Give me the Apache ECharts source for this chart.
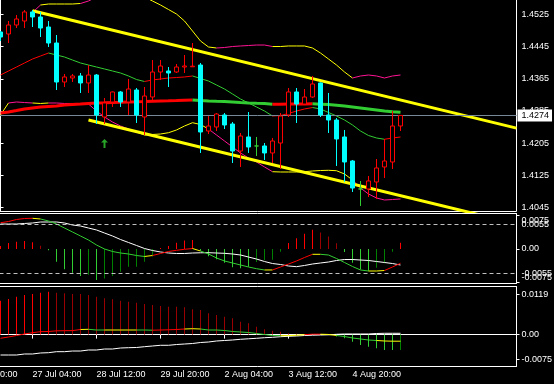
<!DOCTYPE html>
<html><head><meta charset="utf-8">
<script src="https://cdn.jsdelivr.net/npm/echarts@6.0.0/dist/echarts.min.js"></script>
<style>html,body{margin:0;padding:0;background:#000;}#c{width:554px;height:384px;}</style>
</head><body><div id="c"></div>
<script>
// ---------- DATA ----------
const times = ['25 Jul 20:00','26 Jul 00:00','26 Jul 04:00','26 Jul 08:00',
'26 Jul 12:00','26 Jul 16:00','26 Jul 20:00','27 Jul 00:00','27 Jul 04:00','27 Jul 08:00','27 Jul 12:00','27 Jul 16:00','27 Jul 20:00',
'28 Jul 00:00','28 Jul 04:00','28 Jul 08:00','28 Jul 12:00','28 Jul 16:00','28 Jul 20:00',
'29 Jul 00:00','29 Jul 04:00','29 Jul 08:00','29 Jul 12:00','29 Jul 16:00','29 Jul 20:00',
'1 Aug 00:00','1 Aug 04:00','1 Aug 08:00','1 Aug 12:00','1 Aug 16:00','1 Aug 20:00',
'2 Aug 00:00','2 Aug 04:00','2 Aug 08:00','2 Aug 12:00','2 Aug 16:00','2 Aug 20:00',
'3 Aug 00:00','3 Aug 04:00','3 Aug 08:00','3 Aug 12:00','3 Aug 16:00','3 Aug 20:00',
'4 Aug 00:00','4 Aug 04:00','4 Aug 08:00','4 Aug 12:00','4 Aug 16:00','4 Aug 20:00',
'5 Aug 00:00','5 Aug 04:00','5 Aug 08:00','5 Aug 12:00','5 Aug 16:00','5 Aug 20:00'];
const PAD = 4; // bars of times[] that lie left of the visible area (no data drawn)

const opens  = [1.44815,1.44765,1.44989,1.45088,1.45313,1.45188,1.44939,1.44541,1.43571,1.43671,
1.43721,1.43547,1.43745,1.42701,1.43074,1.43323,1.43074,1.43372,1.42701,1.43198,
1.43820,1.43845,1.43820,1.43944,1.43950,1.43994,1.42353,1.42452,1.42751,1.42527,
1.41855,1.42204,1.41980,1.41980,1.41806,1.42054,1.42751,1.43323,1.43024,1.43198,
1.43547,1.42751,1.42626,1.42204,1.41607,1.40911,1.40911,1.41085,1.41458,1.41582,1.42477];
const closes = [1.44690,1.44989,1.45138,1.45313,1.45188,1.44914,1.44541,1.43571,1.43696,1.43721,
1.43547,1.43745,1.42751,1.43049,1.43323,1.43074,1.43397,1.42751,1.43223,1.43820,
1.43969,1.43795,1.43944,1.43969,1.43965,1.42328,1.42477,1.42775,1.42502,1.41855,
1.42228,1.41955,1.41980,1.41806,1.42104,1.42726,1.43323,1.43024,1.43198,1.43522,
1.42751,1.42626,1.42154,1.41582,1.40935,1.40911,1.41110,1.41433,1.41607,1.42477,1.42740];
const highs  = [1.44840,1.45088,1.45238,1.45362,1.45362,1.45313,1.45088,1.44740,1.43770,1.43770,
1.43795,1.43994,1.43770,1.43174,1.43335,1.43348,1.43646,1.43422,1.43447,1.44118,
1.44118,1.43944,1.44019,1.44243,1.44541,1.44044,1.42726,1.42800,1.42800,1.42576,
1.42303,1.42825,1.42204,1.42054,1.42179,1.42800,1.43422,1.43422,1.43397,1.43721,
1.43560,1.43298,1.42676,1.42378,1.41632,1.41110,1.41234,1.41656,1.42154,1.42850,1.42740];
const lows   = [1.44591,1.44541,1.44914,1.44914,1.44939,1.44690,1.44442,1.43372,1.43447,1.43571,
1.43298,1.43298,1.42527,1.42527,1.42950,1.42950,1.42751,1.42552,1.42253,1.43124,
1.43621,1.43447,1.43795,1.43795,1.43944,1.41806,1.42278,1.42353,1.42402,1.41557,
1.41458,1.41806,1.41731,1.41632,1.41557,1.41408,1.42701,1.42552,1.43000,1.43174,
1.42701,1.42303,1.41483,1.41085,1.40836,1.40488,1.40712,1.40662,1.41184,1.41408,1.42353];

const maThick = [1.42800,1.42825,1.42862,1.42900,1.42925,1.42950,1.42962,1.42974,1.42999,1.43012,
1.43024,1.43037,1.43049,1.43054,1.43061,1.43066,1.43074,1.43079,1.43086,1.43094,
1.43099,1.43104,1.43111,1.43119,1.43124,1.43111,1.43099,1.43091,1.43084,1.43074,
1.43061,1.43049,1.43041,1.43034,1.43017,1.43019,1.43022,1.43024,1.43027,1.43029,
1.43019,1.43009,1.42994,1.42974,1.42950,1.42925,1.42900,1.42875,1.42850,1.42833,1.42818];
const maMid = [1.43745,1.43845,1.43944,1.44044,1.44143,1.44218,1.44292,1.44243,1.44193,1.44118,
1.44044,1.43994,1.43944,1.43895,1.43845,1.43795,1.43721,1.43633,1.43584,1.43621,
1.43646,1.43671,1.43683,1.43696,1.43721,1.43658,1.43596,1.43497,1.43397,1.43273,
1.43148,1.43049,1.42950,1.42850,1.42726,1.42738,1.42788,1.42850,1.42900,1.42937,
1.42900,1.42813,1.42726,1.42626,1.42502,1.42353,1.42241,1.42179,1.42147,1.42179,1.42204];
const bandUpper = [null,null,null,null,
1.45300,1.45486,1.45511,1.45511,1.45511,1.45511,1.45524,1.45586,1.45685,1.45760,
1.45810,1.45834,1.45847,1.45785,1.45685,1.45586,1.45486,1.45374,1.45262,1.45088,
1.44840,1.44591,1.44442,1.44417,1.44429,1.44454,1.44467,1.44479,1.44491,1.44491,
1.44454,1.44454,1.44467,1.44467,1.44467,1.44417,1.44292,1.44143,1.43994,1.43820,
1.43671,1.43721,1.43745,1.43721,1.43671,1.43721,1.43745];
const bandLower = [1.42751,1.43049,1.43074,1.43061,1.43049,1.43037,1.43049,1.43049,1.43037,1.43037,
1.43037,1.43024,1.42850,1.42701,1.42576,1.42477,1.42402,1.42328,1.42253,1.42266,
1.42278,1.42310,1.42378,1.42477,1.42559,1.42514,1.42402,1.42253,1.42104,1.41955,
1.41806,1.41681,1.41582,1.41458,1.41340,1.41333,1.41333,1.41333,1.41340,1.41358,
1.41370,1.41375,1.41365,1.41283,1.41134,1.40935,1.40786,1.40687,1.40637,1.40649,1.40662];

const upperChannelBars = [4, 64.5], upperChannelPrices = [1.45345, 1.42425];
const lowerChannelBars = [11, 64.5], lowerChannelPrices = [1.42627, 1.40045];
const arrowBars = [13], arrowPrices = [1.42042];

const osc1Hist = [0.00067,0.00135,0.00164,0.0018,0.0015,0.00075,-0.0003,-0.00285,-0.00456,-0.00532,
-0.00606,-0.0058,-0.00696,-0.0066,-0.00606,-0.0051,-0.0040,-0.0040,-0.00285,-0.0017,
0.0002,0.0007,0.0014,0.0019,0.002,-0.0004,-0.0016,-0.0023,-0.0031,-0.0041,
-0.0043,-0.0040,-0.0029,-0.0025,-0.0024,-0.0006,0.00135,0.0024,0.0034,0.0043,
0.0037,0.0028,0.0013,-0.0007,-0.0031,-0.0046,-0.0049,-0.0042,-0.0032,-0.0006,0.0014];
const osc1Line = [0.00590,0.00617,0.00662,0.00685,0.00689,0.00674,0.00629,0.00561,0.00471,0.00382,
0.00292,0.00202,0.00090,0.00000,-0.00056,-0.00090,-0.00112,-0.00146,-0.00168,-0.00146,
-0.00101,-0.00056,-0.00029,-0.00007,0.00011,-0.00045,-0.00112,-0.00202,-0.00269,-0.00314,
-0.00359,-0.00404,-0.00442,-0.00471,-0.00471,-0.00404,-0.00337,-0.00269,-0.00191,-0.00119,
-0.00119,-0.00135,-0.00213,-0.00303,-0.00393,-0.00471,-0.00494,-0.00494,-0.00483,-0.00404,-0.00321];
const osc1Signal = [0.00561,0.00561,0.00561,0.00573,0.00584,0.00606,0.00606,0.00606,0.00584,0.00539,
0.00516,0.00471,0.00427,0.00359,0.00292,0.00213,0.00146,0.00079,0.00011,-0.00034,
-0.00067,-0.00090,-0.00101,-0.00101,-0.00090,-0.00085,-0.00083,-0.00090,-0.00097,-0.00112,
-0.00135,-0.00180,-0.00225,-0.00281,-0.00326,-0.00348,-0.00382,-0.00397,-0.00370,-0.00337,
-0.00314,-0.00292,-0.00258,-0.00236,-0.00236,-0.00247,-0.00258,-0.00281,-0.00303,-0.00326,-0.00359];
const osc1Levels = [0.0055, -0.0055];

const osc2Hist = [0.0101,0.01063,0.01131,0.01182,0.01212,0.01251,0.01281,0.01251,0.01233,0.01212,
0.01212,0.01182,0.01131,0.01084,0.01054,0.01012,0.00982,0.00952,0.00913,0.00884,
0.00854,0.00833,0.00833,0.00815,0.00755,0.00734,0.00636,0.00585,0.00534,0.00487,
0.00385,0.0034,0.00236,0.00158,0.00116,0.00087,0.0004,0.00024,0.0001,0.00005,
0.00003,-0.00002,-0.0006,-0.0011,-0.0021,-0.0031,-0.0036,-0.0041,-0.0046,-0.0046,-0.0046];
const osc2Line = [-0.00110,-0.00072,-0.00027,0.00018,0.00057,0.00087,0.00093,0.00113,0.00116,0.00119,
0.00152,0.00158,0.00137,0.00137,0.00137,0.00137,0.00137,0.00137,0.00137,0.00131,
0.00137,0.00143,0.00152,0.00167,0.00176,0.00167,0.00137,0.00137,0.00122,0.00093,
0.00078,0.00063,0.00033,0.00003,-0.00027,-0.00033,-0.00030,-0.00020,-0.00002,0.00012,
0.00012,0.00004,-0.00027,-0.00057,-0.00101,-0.00131,-0.00161,-0.00176,-0.00191,-0.00197,-0.00197];
const osc2Signal = [-0.00609,-0.00609,-0.00609,-0.00579,-0.00579,-0.00549,-0.00540,-0.00510,-0.00510,-0.00490,
-0.00490,-0.00460,-0.00460,-0.00430,-0.00430,-0.00400,-0.00391,-0.00385,-0.00361,-0.00340,
-0.00319,-0.00319,-0.00296,-0.00281,-0.00266,-0.00236,-0.00221,-0.00191,-0.00176,-0.00161,
-0.00140,-0.00125,-0.00110,-0.00093,-0.00081,-0.00063,-0.00051,-0.00042,-0.00027,-0.00018,
-0.00012,-0.00006,0.00009,0.00018,0.00018,0.00018,0.00018,0.00033,0.00039,0.00039,0.00039];

const priceTicks = [1.4045,1.4125,1.4205,1.4285,1.4365,1.4445,1.4525];
const osc1Ticks = [-0.0075,0,0.0075];
const osc2Ticks = [-0.0075,0,0.0119];

// ---------- STYLE (colour runs, [count, key]) ----------
const PAL = {R:'#FF0000', r:'#990000', G:'#32CD32', g:'#008000', Y:'#FFFF00', m:'#FF1493'};
const upperRuns = [[4,' '],[1,'m'],[5,'Y'],[6,'m'],[11,'Y'],[7,'m'],[10,'Y'],[6,'m']];
const lowerRuns = [[1,'Y'],[3,'m'],[2,'Y'],[11,'m'],[9,'Y'],[8,'m'],[10,'Y'],[6,'m']];
const osc1LineRuns = [[4,'R'],[1,'Y'],[13,'G'],[1,'Y'],[5,'R'],[1,'Y'],[8,'G'],[1,'Y'],[5,'R'],[1,'Y'],[6,'G'],[2,'Y'],[2,'R']];
const osc1HistRuns = [[5,'R'],[1,'r'],[5,'G'],[1,'g'],[1,'G'],[7,'g'],[5,'R'],[7,'G'],[4,'g'],[4,'R'],[3,'r'],[4,'G'],[3,'g'],[1,'R']];
const osc2LineRuns = [[10,'R'],[1,'Y'],[2,'G'],[4,'Y'],[2,'G'],[4,'R'],[2,'Y'],[10,'G'],[3,'Y'],[2,'R'],[2,'Y'],[5,'G'],[3,'Y']];
const osc2HistRuns = [[7,'R'],[35,'r'],[8,'G'],[1,'g']];

// ---------- BUILD ----------
const FONT = 'Liberation Sans, Arial, sans-serif';
const EXTRA = 14;
const cats = times.concat(Array(EXTRA).fill(''));
const pad = (a, f) => Array(PAD).fill(f === undefined ? null : f).concat(a);
const expand = runs => runs.flatMap(([n, c]) => Array(n).fill(c));
const slopeKeys = v => v.slice(0, -1).map((x, i) => v[i + 1] >= x ? 'R' : 'G');

function runSeries(values, keys, xi, yi, lw, z) {
  const out = [];
  let i = 0;
  while (i < keys.length) {
    const c = keys[i];
    if (c === ' ') { i++; continue; }
    let j = i;
    while (j + 1 < keys.length && keys[j + 1] === c) j++;
    const d = values.map((v, idx) => (idx >= i && idx <= j + 1) ? v : null);
    out.push({type:'line', xAxisIndex:xi, yAxisIndex:yi, symbol:'none', silent:true, animation:false,
      z: z, data: pad(d), lineStyle:{color: PAL[c], width: lw}});
    i = j + 1;
  }
  return out;
}
function histSeries(values, runs, xi, yi) {
  const keys = expand(runs);
  return {type:'bar', xAxisIndex:xi, yAxisIndex:yi, barWidth:1, silent:true, animation:false, z:1,
    data: pad(values.map((v, i) => ({value: v, itemStyle: {color: PAL[keys[i]]}})), {value: '-'})};
}

const ohlc = opens.map((o, i) => [o, closes[i], lows[i], highs[i]]);
const lastPrice = closes[closes.length - 1];
const lblInt = (i, v) => i % 8 === 0 && v !== '';
const fmtOsc = v => Math.abs(v) < 1e-12 ? '0.00' : v.toFixed(4);

function yAx(grid, min, max, ticks, fmt, extra) {
  return {type:'value', gridIndex:grid, position:'right', min:min, max:max,
    axisLine:{show:true, lineStyle:{color:'#fff'}},
    axisTick:{show:true, customValues:ticks, length:3, lineStyle:{color:'#fff'}},
    axisLabel:Object.assign({customValues:ticks, color:'#fff', fontSize:9, fontFamily:FONT, margin:5, formatter:fmt,
      hideOverlap:false, showMinLabel:true, showMaxLabel:true}, extra || {}),
    splitLine:{show:false}};
}

const series = [];
series.push(...runSeries(bandUpper, expand(upperRuns), 0, 0, 1, 2));
series.push(...runSeries(bandLower, expand(lowerRuns), 0, 0, 1, 2));
series.push(...runSeries(maMid, slopeKeys(maMid), 0, 0, 1, 2));
series.push(...runSeries(maThick, slopeKeys(maThick), 0, 0, 3, 3));
series.push({type:'line', xAxisIndex:3, yAxisIndex:0, symbol:'none', silent:true, animation:false, z:4,
  data: upperChannelBars.map((b, i) => [b, upperChannelPrices[i]]), lineStyle:{color:'#FFFF00', width:3},
  markLine:{silent:true, animation:false, symbol:['none','none'], precision:5,
    lineStyle:{color:'#778899', width:1, type:'solid'},
    label:{show:true, position:'end', distance:1, formatter: lastPrice.toFixed(4), color:'#000', backgroundColor:'#fff',
      padding:[2,3,1,4], fontSize:9, fontFamily:FONT},
    data:[{yAxis:lastPrice}]}});
series.push({type:'line', xAxisIndex:3, yAxisIndex:0, symbol:'none', silent:true, animation:false, z:4,
  data: lowerChannelBars.map((b, i) => [b, lowerChannelPrices[i]]), lineStyle:{color:'#FFFF00', width:3}});
series.push({type:'candlestick', xAxisIndex:0, yAxisIndex:0, barWidth:5, z:5, animation:false, silent:true,
  data: pad(ohlc, ['-','-','-','-']),
  itemStyle:{color:'#000', color0:'#00FFFF', borderColor:'#FF0000', borderColor0:'#00FFFF', borderColorDoji:'#32CD32', borderWidth:1}});
series.push({type:'scatter', xAxisIndex:0, yAxisIndex:0, z:6, silent:true, animation:false,
  symbol:'path://M3.5,0 L7,3.5 L4.5,3.5 L4.5,9 L2.5,9 L2.5,3.5 L0,3.5 Z', symbolSize:[7,9],
  itemStyle:{color:'#32CD32'}, data: arrowBars.map((b, i) => [b + PAD, arrowPrices[i]])});

series.push(histSeries(osc1Hist, osc1HistRuns, 1, 1));
series.push({type:'line', xAxisIndex:1, yAxisIndex:1, symbol:'none', silent:true, animation:false, z:2,
  data: pad(osc1Signal), lineStyle:{color:'#fff', width:1},
  markLine:{silent:true, animation:false, symbol:['none','none'], precision:5,
    label:{show:true, position:'end', distance:5, color:'#fff', fontSize:9, fontFamily:FONT,
      formatter: p => p.value.toFixed(4)},
    lineStyle:{color:'#C0C0C0', type:[4,3], width:1}, data: osc1Levels.map(v => ({yAxis:v}))}});
series.push(...runSeries(osc1Line, expand(osc1LineRuns), 1, 1, 1, 3));

series.push(histSeries(osc2Hist, osc2HistRuns, 2, 2));
series.push({type:'line', xAxisIndex:2, yAxisIndex:2, symbol:'none', silent:true, animation:false, z:2,
  data: pad(osc2Signal), lineStyle:{color:'#fff', width:1}});
series.push(...runSeries(osc2Line, expand(osc2LineRuns), 2, 2, 1, 3));

const gridBase = {left:-35.5, width:552, show:true, borderColor:'#fff', borderWidth:1, backgroundColor:'transparent',
  containLabel:false, outerBoundsMode:'none'};
const option = {
  backgroundColor:'#000',
  animation:false,
  grid:[
    Object.assign({top:-1.5, height:213}, gridBase),
    Object.assign({top:213.5, height:70}, gridBase),
    Object.assign({top:286.5, height:80}, gridBase)
  ],
  xAxis:[
    {type:'category', gridIndex:0, data:cats, show:false},
    {type:'category', gridIndex:1, data:cats, show:false},
    {type:'category', gridIndex:2, data:cats,
      axisLine:{show:true, lineStyle:{color:'#fff'}},
      axisTick:{show:true, alignWithLabel:true, interval:lblInt, length:4, lineStyle:{color:'#fff'}},
      axisLabel:{interval:lblInt, align:'left', color:'#fff', fontSize:9, fontFamily:FONT, margin:4},
      splitLine:{show:false}},
    {type:'value', gridIndex:0, min:-4.5, max:64.5, show:false}
  ],
  yAxis:[
    yAx(0, 1.403506, 1.456479, priceTicks, v => v.toFixed(4)),
    yAx(1, -0.007746, 0.007970, osc1Ticks, fmtOsc, {verticalAlignMaxLabel:'top', verticalAlignMinLabel:'bottom'}),
    yAx(2, -0.009522, 0.014358, osc2Ticks, fmtOsc)
  ],
  series: series
};
const chart = echarts.init(document.getElementById('c'), null, {renderer:'canvas', width:554, height:384});
chart.setOption(option);
</script>
</body></html>
